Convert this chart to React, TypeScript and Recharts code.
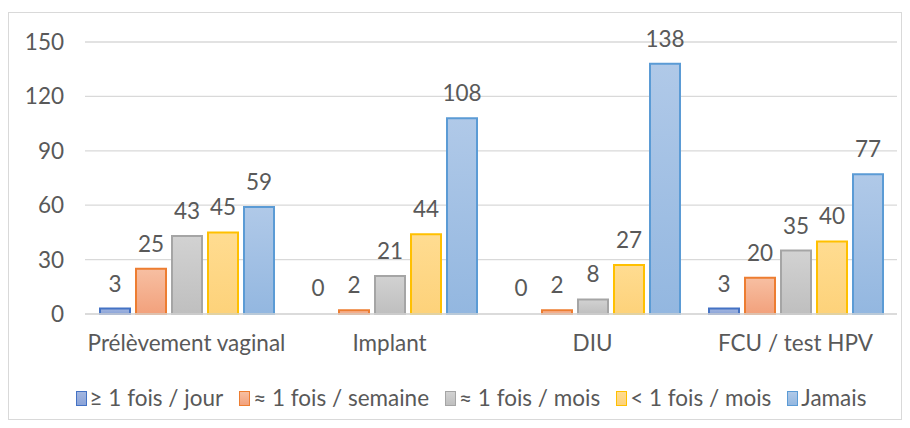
import React from 'react';
import { BarChart, Bar, XAxis, YAxis, CartesianGrid, Rectangle } from 'recharts';

const categories = ['Prélèvement vaginal', 'Implant', 'DIU', 'FCU / test HPV'];
const jour = [3, 0, 0, 3];
const semaine = [25, 2, 2, 20];
const mois = [43, 21, 8, 35];
const moinsMois = [45, 44, 27, 40];
const jamais = [59, 108, 138, 77];
const yTicks = [0, 30, 60, 90, 120, 150];

const series = [
  { key: 'jour', name: '≥ 1 fois / jour', values: jour, top: '#a3b6e0', bottom: '#8aa3d8', stroke: '#4472c4' },
  { key: 'semaine', name: '≈ 1 fois / semaine', values: semaine, top: '#f7bfa2', bottom: '#f2a17c', stroke: '#ed7d31' },
  { key: 'mois', name: '≈ 1 fois / mois', values: mois, top: '#d2d2d2', bottom: '#bfbfbf', stroke: '#a5a5a5' },
  { key: 'moins', name: '< 1 fois / mois', values: moinsMois, top: '#ffdc91', bottom: '#fdd27a', stroke: '#ffc000' },
  { key: 'jamais', name: 'Jamais', values: jamais, top: '#b0c9e8', bottom: '#93b7e0', stroke: '#5b9bd5' },
];

const data = categories.map((c, i) => {
  const row: Record<string, string | number> = { name: c };
  series.forEach((s) => (row[s.key] = s.values[i]));
  return row;
});

const font = 'Lato, "Open Sans", sans-serif';
const textColor = '#595959';
const fontSize = 22.5;

const valueLabel = (props: any) => {
  const { x, y, width, value } = props;
  if (value === undefined || value === null) return null;
  return (
    <text x={Number(x) + Number(width) / 2} y={Number(y) - 17} textAnchor="middle" fill={textColor} fontSize={fontSize} fontFamily={font}>
      {value}
    </text>
  );
};

// zero-valued bars keep their label but draw no rectangle
const makeShape = (key: string) => (props: any) => {
  if (props.payload && props.payload[key] === 0) return <g />;
  return <Rectangle {...props} />;
};

export default function App() {
  return (
    <div style={{ marginTop: 4, width: 892, height: 406, border: '1px solid #d9d9d9', fontFamily: font, background: '#fff' }}>
      <svg width={0} height={0} style={{ position: 'absolute' }}>
        <defs>
          {series.map((s) => (
            <linearGradient key={s.key} id={`g-${s.key}`} x1="0" y1="0" x2="0" y2="1">
              <stop offset="0%" stopColor={s.top} />
              <stop offset="100%" stopColor={s.bottom} />
            </linearGradient>
          ))}
        </defs>
      </svg>
      <BarChart width={892} height={345} data={data} margin={{ top: 29, right: 4, bottom: 14, left: 0 }} barSize={30} barGap={6}>
        <CartesianGrid vertical={false} stroke="#d9d9d9" strokeWidth={1.3} />
        <XAxis
          dataKey="name"
          axisLine={{ stroke: '#d9d9d9', strokeWidth: 1.3 }}
          tickLine={false}
          tickMargin={15}
          tick={{ fill: textColor, fontSize, fontFamily: font }}
          interval={0}
        />
        <YAxis
          width={76}
          domain={[0, 150]}
          ticks={yTicks}
          axisLine={false}
          tickLine={false}
          tickMargin={15}
          tick={{ fill: textColor, fontSize, fontFamily: font }}
        />
        {series.map((s) => (
          <Bar
            key={s.key}
            dataKey={s.key}
            name={s.name}
            fill={`url(#g-${s.key})`}
            stroke={s.stroke}
            strokeWidth={2}
            minPointSize={1}
            shape={makeShape(s.key)}
            isAnimationActive={false}
            label={valueLabel}
          />
        ))}
      </BarChart>
      <div style={{ marginTop: 29, height: 22, lineHeight: '22px', display: 'flex', justifyContent: 'center', gap: 16, color: textColor, fontSize, paddingLeft: 32 }}>
        {series.map((s) => (
          <div key={s.key} style={{ display: 'flex', alignItems: 'center', gap: 3 }}>
            <span style={{ display: 'inline-block', width: 9, height: 13, border: `1.5px solid ${s.stroke}`, background: `linear-gradient(${s.top}, ${s.bottom})` }} />
            <span>{s.name}</span>
          </div>
        ))}
      </div>
    </div>
  );
}
